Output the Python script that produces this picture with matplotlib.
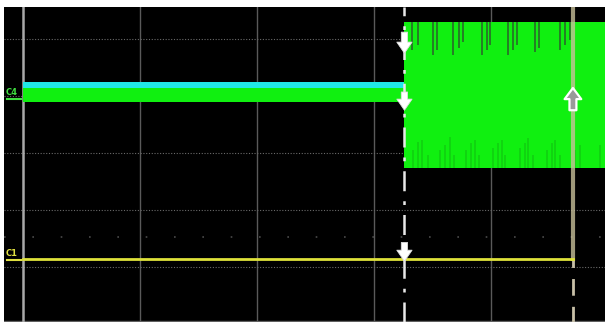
import numpy as np
import matplotlib
matplotlib.use("Agg")
import matplotlib.pyplot as plt

# screen units: x in time divisions, y in vertical divisions
grid_x = [0, 1, 2, 3, 4]
grid_y = [0, 1, 2, 3, 4]

cursor_a = 3.26
cursor_b = 4.70

# C4 before the trigger: cyan upper part, green lower part
c4_cyan = (3.14, 3.25)
c4_green = (2.89, 3.14)

# C4 after the trigger: envelope plus spikes
c4_env_top = 4.30
c4_env_bottom = 1.74
top_spike_x = [3.325, 3.376, 3.504, 3.538, 3.675, 3.726, 3.761, 3.923, 3.966, 3.991,
               4.145, 4.188, 4.222, 4.376, 4.410, 4.590, 4.632, 4.675]
top_spike_tip = [3.81, 3.89, 3.72, 3.81, 3.72, 3.84, 3.95, 3.72, 3.81, 3.89,
                 3.72, 3.81, 3.89, 3.77, 3.84, 3.81, 3.89, 3.98]
bot_spike_x = [3.33, 3.38, 3.41, 3.46, 3.56, 3.61, 3.65, 3.68, 3.79, 3.83, 3.86, 3.90,
               4.02, 4.06, 4.09, 4.12, 4.25, 4.29, 4.32, 4.36, 4.48, 4.52, 4.55, 4.59,
               4.72, 4.76, 4.93]
bot_spike_tip = [2.05, 2.19, 2.23, 1.96, 2.05, 2.14, 2.28, 1.96, 2.05, 2.18, 2.23, 1.96,
                 2.09, 2.18, 2.23, 1.96, 2.09, 2.18, 2.26, 1.96, 2.05, 2.18, 2.23, 1.96,
                 2.05, 2.14, 2.14]

# C1 level and its edge at cursor b
c1_x = [0, cursor_b, cursor_b]
c1_y = [0.14, 0.14, 5.0]

# cursor markers: (tail, tip) in divisions
down_arrows = [(4.12, 3.75), (3.07, 2.75), (0.43, 0.10)]
up_arrow = (2.75, 3.14)

fig = plt.figure(figsize=(6.05, 3.22), dpi=100, facecolor="white")
ax = fig.add_axes([4 / 605, 0, 601 / 605, 315 / 322])
ax.set_facecolor("black")
ax.set_xlim(-0.162, 4.974)
ax.set_ylim(-0.965, 4.561)
ax.set_xticks([])
ax.set_yticks([])
for s in ax.spines.values():
    s.set_visible(False)

# graticule
for gx in grid_x[1:]:
    ax.axvline(gx, color="#5a5a5a", lw=1.0, zorder=1)
for gy in grid_y:
    ax.axhline(gy, color="#6a6a6a", lw=0.8, ls=(0, (1, 1.5)), zorder=1)
ax.axhline(0.53, color="#4a4a4a", lw=1.2, ls=(0, (1, 16)), zorder=1)
ax.axvline(0, color="#a8a8a8", lw=1.8, zorder=2)
ax.axhline(-0.94, color="#606060", lw=1.0, zorder=1)

# C4 before trigger
ax.fill_between([0, cursor_a], c4_cyan[0], c4_cyan[1], color="#20e8e8", lw=0, zorder=3)
ax.fill_between([0, cursor_a], c4_green[0], c4_green[1], color="#10f010", lw=0, zorder=3)

# C4 after trigger
ax.fill_between([cursor_a, 5.0], c4_env_bottom, c4_env_top, color="#10f010", lw=0, zorder=3)
ax.vlines(top_spike_x, top_spike_tip, c4_env_top, color="#2a6a2a", lw=1.2, zorder=4)
ax.vlines(bot_spike_x, c4_env_bottom, bot_spike_tip, color="#10d010", lw=1.2, zorder=4)

# C1
ax.plot(c1_x[:2], c1_y[:2], color="#dfe23a", lw=2.0, zorder=5)
ax.plot(c1_x[1:], c1_y[1:], color="#c8c09a", lw=3.0, alpha=0.8, zorder=4.5)
ax.plot([cursor_b, cursor_b], [-1, c1_y[0]], color="#c8c0a8", lw=2.0,
        ls=(0, (6, 4)), zorder=2)

# cursor a
ax.axvline(cursor_a, color="#e8e8e8", lw=1.8, ls=(0, (8, 4, 1.5, 4)), zorder=6)

# cursor arrows
arrow = dict(arrowstyle="simple,head_width=1.1,head_length=0.8,tail_width=0.45",
             fc="white", ec="#dddddd", lw=0.6, shrinkA=0, shrinkB=0)
for y_tail, y_tip in down_arrows:
    ax.annotate("", xy=(cursor_a, y_tip), xytext=(cursor_a, y_tail),
                arrowprops=arrow, zorder=7)
ax.annotate("", xy=(cursor_b, up_arrow[1]), xytext=(cursor_b, up_arrow[0]),
            arrowprops=dict(arrowstyle="simple,head_width=1.2,head_length=0.8,tail_width=0.5",
                            fc="#9a9a9a", ec="white", lw=1.6, shrinkA=0, shrinkB=0),
            zorder=7)

# channel labels
ax.text(-0.15, 3.06, "C4", color="#40e040", fontsize=6, fontweight="bold",
        va="center", ha="left", zorder=8)
ax.plot([-0.14, -0.02], [2.95, 2.95], color="#40e040", lw=1.5, zorder=8)
ax.text(-0.15, 0.24, "C1", color="#e0e040", fontsize=6, fontweight="bold",
        va="center", ha="left", zorder=8)
ax.plot([-0.14, -0.02], [0.12, 0.12], color="#e0e040", lw=1.5, zorder=8)

fig.savefig("out.png", dpi=100, facecolor="white")
